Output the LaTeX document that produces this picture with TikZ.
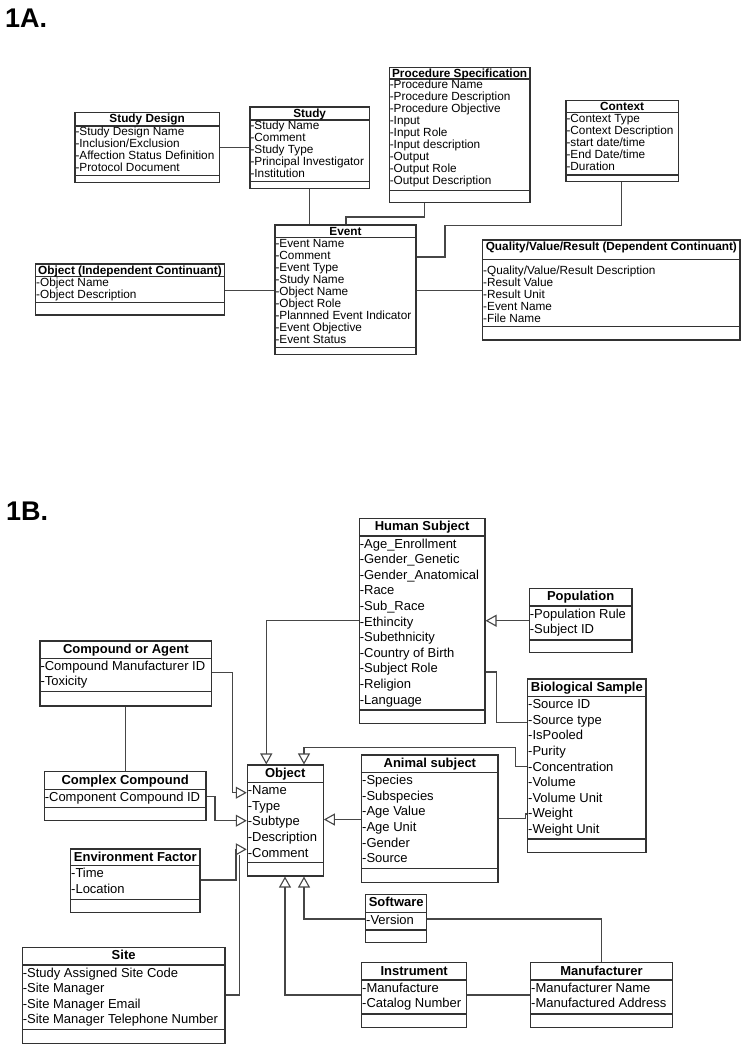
\documentclass[tikz,border=0pt]{standalone}
\usepackage{fontspec}
\setmainfont{Liberation Sans}
\usetikzlibrary{arrows.meta,fit}
\definecolor{boxc}{RGB}{50,50,50}
\definecolor{linec}{RGB}{70,70,70}

\newcommand\titoff{10}
\newcommand\attoff{9.3}
\newcommand\rowsep{12}
\newcommand\boxfont{\fontsize{11.8}{12}\selectfont}

% name x1 y1 x2 y2 ytitle ysep title attributes
\newcommand\umlbox[9]{%
  \node[umlrect, fit={(#2,#3) (#4,#5)}] (#1) {};
  \draw[umlsep] (#2,#6) -- (#4,#6);
  \draw[umlsep] (#2,#7) -- (#4,#7);
  \node[umltitle] (#1-title) at ({(#2+#4)/2},{#3+\titoff}) {#8};
  \foreach \a [count=\i] in {#9}{%
    \node[umlattr] (#1-a\i) at ({#2+0.3},{#6+\attoff+(\i-1)*\rowsep}) {-\a};
  }%
}

\begin{document}
\begin{tikzpicture}[x=1pt,y=-1pt,
  umlrect/.style={draw=boxc, line width=1.1pt, inner sep=0pt},
  umlsep/.style={draw=boxc, line width=1.1pt},
  umltitle/.style={anchor=base, inner sep=0pt, font=\boxfont\bfseries},
  umlattr/.style={anchor=base west, inner sep=0pt, font=\boxfont},
  conn/.style={draw=linec, line width=1.1pt},
  gen/.style={conn, -{Triangle[open, length=11pt, width=12pt]}},
  panel/.style={anchor=base west, inner sep=0pt, font=\fontsize{27}{29}\selectfont\bfseries}
]
\path[use as bounding box, fill=white] (0,0) rectangle (747,1050);

\node[panel] (lA) at (5,27) {1A.};
\node[panel] (lB) at (6,520) {1B.};

% ---------------- 1A ----------------
\umlbox{sd}{75}{112.7}{219.3}{182.3}{126}{175.7}{Study Design}
  {Study Design Name, Inclusion/Exclusion, Affection Status Definition, Protocol Document}
\umlbox{study}{250}{107}{369.3}{188.3}{120}{181.7}{Study}
  {Study Name, Comment, Study Type, Principal Investigator, Institution}
\umlbox{ps}{389.3}{67.3}{530}{202.3}{79}{190.7}{Procedure Specification}
  {Procedure Name, Procedure Description, Procedure Objective, Input, Input Role, Input description, Output, Output Role, Output Description}
\umlbox{ctx}{566}{100.7}{678.3}{181.7}{112.7}{175}{Context}
  {Context Type, Context Description, start date/time, End Date/time, Duration}
\umlbox{event}{275}{225}{416}{354.3}{237.7}{347.3}{Event}
  {Event Name, Comment, Event Type, Study Name, Object Name, Object Role, Plannned Event Indicator, Event Objective, Event Status}
\umlbox{obj1}{35.7}{264}{224.3}{315}{276.7}{302.7}{Object (Independent Continuant)}
  {Object Name, Object Description}
\renewcommand\attoff{15}
\umlbox{qvr}{482.7}{240}{740}{340}{259.3}{326.7}{Quality/Value/Result (Dependent Continuant)}
  {Quality/Value/Result Description, Result Value, Result Unit, Event Name, File Name}

\coordinate (j1) at (0,147.7);
\draw[conn] (sd.east |- j1) -- (study.west |- j1);
\draw[conn] (study.south) -- (study.south |- event.north);
\coordinate (j2) at (424.3,217);
\coordinate (j3) at (346,217);
\draw[conn] (ps.south -| j2) -- (j2) -- (j3) -- (event.north -| j3);
\coordinate (j4) at (621.7,225.7);
\coordinate (j5) at (445,257);
\draw[conn] (ctx.south -| j4) -- (j4) -| (j5) -- (event.east |- j5);
\coordinate (j6) at (0,290.5);
\draw[conn] (obj1.east |- j6) -- (event.west |- j6);
\draw[conn] (event.east |- j6) -- (qvr.west |- j6);

% ---------------- 1B ----------------
\renewcommand\titoff{12.3}
\renewcommand\attoff{12}
\renewcommand\rowsep{15.6}
\renewcommand\boxfont{\fontsize{13}{15.6}\selectfont}

\umlbox{hs}{359.3}{518.3}{485}{723.3}{536}{710}{Human Subject}
  {Age\_Enrollment, Gender\_Genetic, Gender\_Anatomical, Race, Sub\_Race, Ethincity, Subethnicity, Country of Birth, Subject Role, Religion, Language}
\umlbox{pop}{529.3}{588.3}{632}{652.7}{606}{640}{Population}
  {Population Rule, Subject ID}
\umlbox{bio}{527.7}{679}{646}{852.3}{696.7}{839}{Biological Sample}
  {Source ID, Source type, IsPooled, Purity, Concentration, Volume, Volume Unit, Weight, Weight Unit}
\umlbox{coa}{40}{641}{211.7}{706}{658.3}{691.7}{Compound or Agent}
  {Compound Manufacturer ID, Toxicity}
\umlbox{cc}{44.3}{771.7}{206}{820.7}{789.3}{807.3}{Complex Compound}
  {Component Compound ID}
\umlbox{obj}{247.3}{765}{323.3}{876}{782.7}{862.7}{Object}
  {Name, Type, Subtype, Description, Comment}
\umlbox{animal}{361.7}{755}{498}{882.3}{772.7}{868.3}{Animal subject}
  {Species, Subspecies, Age Value, Age Unit, Gender, Source}
\umlbox{env}{70.7}{849}{200}{912.3}{865.7}{899.3}{Environment Factor}
  {Time, Location}
\umlbox{site}{22.3}{947.3}{225}{1043.3}{965}{1029.3}{Site}
  {Study Assigned Site Code, Site Manager, Site Manager Email, Site Manager Telephone Number}
\umlbox{sw}{365.7}{894.3}{426.7}{942.7}{912.3}{930}{Software}
  {Version}
\umlbox{inst}{361.7}{962.7}{466.7}{1027.3}{980}{1014}{Instrument}
  {Manufacture, Catalog Number}
\umlbox{mfr}{530.7}{962.7}{672.3}{1027.3}{980}{1014}{Manufacturer}
  {Manufacturer Name, Manufactured Address}

\coordinate (k1) at (0,620.7);
\draw[gen] (pop.west |- k1) -- (hs.east |- k1);
\coordinate (k2) at (266.3,620.7);
\draw[gen] (hs.west |- k2) -- (k2) -- (obj.north -| k2);
\coordinate (k3) at (496.7,672);
\coordinate (k4) at (496.7,722.7);
\draw[conn] (hs.east |- k3) -- (k3) -- (k4) -- (bio.west |- k4);
\coordinate (k5) at (515.7,766.7);
\coordinate (k6) at (515.7,747.7);
\coordinate (k7) at (304,747.7);
\draw[gen] (bio.west |- k5) -- (k5) -- (k6) -- (k7) -- (obj.north -| k7);
\coordinate (k8) at (0,819.5);
\draw[gen] (animal.west |- k8) -- (obj.east |- k8);
\coordinate (k9) at (525.7,818.3);
\coordinate (k10) at (525.7,814);
\draw[conn] (animal.east |- k9) -- (k9) -- (k10) -- (bio.west |- k10);
\coordinate (m1) at (232.7,672.7);
\coordinate (m2) at (0,792.7);
\draw[gen] (coa.east |- m1) -- (m1) |- (obj.west |- m2);
\draw[conn] (coa.south) -- (coa.south |- cc.north);
\coordinate (m3) at (215,796.7);
\coordinate (m4) at (0,820.7);
\draw[gen] (cc.east |- m3) -- (m3) |- (obj.west |- m4);
\coordinate (m5) at (236,880);
\coordinate (m6) at (0,849.3);
\draw[gen] (env.east |- m5) -- (m5) |- (obj.west |- m6);
\coordinate (m7) at (239.3,995);
\coordinate (m8) at (239.3,854.5);
\draw[conn] (site.east |- m7) -- (m7) -- (m8);
\coordinate (n1) at (285,995);
\draw[gen] (inst.west |- n1) -| (obj.south -| n1);
\coordinate (n2) at (304,919);
\draw[gen] (sw.west |- n2) -| (obj.south -| n2);
\draw[conn] (sw.east |- n2) -| (mfr.north);
\draw[conn] (inst.east |- n1) -- (mfr.west |- n1);
\end{tikzpicture}
\end{document}
